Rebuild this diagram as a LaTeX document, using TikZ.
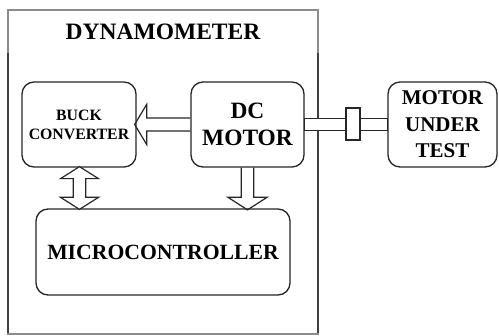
\documentclass[tikz,border=0pt]{standalone}
\usepackage{fontspec}
\setmainfont{Liberation Serif}
\usetikzlibrary{calc}
\begin{document}
\begin{tikzpicture}[x=1pt,y=-1pt,
  blk/.style={draw=black!85, line width=1.3pt, rounded corners=12pt, fill=white, align=center, inner sep=0pt, font=\bfseries},
  harrow/.style={draw=black!85, line width=1.2pt, line join=miter},
  outerbox/.style={draw=black!45, line width=1.2pt},
  outerdark/.style={draw=black!75, line width=1.3pt},
  ttl/.style={font=\fontsize{23.5}{27}\selectfont\bfseries, inner sep=0pt}]
\useasboundingbox (0,0) rectangle (499,336);
% outer dynamometer frame
\draw[outerbox] (8,10) rectangle (318,334);
\draw[outerdark] (8,53) -- (8,333);
\draw[outerdark] (318,53) -- (318,333);
\node[ttl] (title) at (163,32) {DYNAMOMETER};
% blocks
\node[blk, minimum width=114pt, minimum height=85pt, font=\fontsize{15.8}{19}\selectfont\bfseries] (buck) at (79,124.5) {BUCK\\CONVERTER};
\node[blk, minimum width=113pt, minimum height=85pt, font=\fontsize{23.4}{27}\selectfont\bfseries] (dc) at (247.5,124.5) {DC\\MOTOR};
\node[blk, minimum width=109pt, minimum height=85pt, font=\fontsize{21}{26.5}\selectfont\bfseries] (mut) at (442.5,124.5) {MOTOR\\UNDER\\TEST};
\node[blk, minimum width=254pt, minimum height=86pt, font=\fontsize{21.7}{26}\selectfont\bfseries] (mcu) at (163,252) {MICROCONTROLLER};
% shaft between DC motor and motor under test
\draw[harrow, fill=white] ($(dc.east)+(0,-6)$) rectangle ($(mut.west)+(0,6)$);
\node[draw=black!85, line width=1.2pt, fill=white, minimum width=14pt, minimum height=32pt, inner sep=0pt] (cpl) at (353,124) {};
% hollow arrow DC motor -> buck converter
\draw[harrow] ($(dc.west)+(0,-6.5)$) -- ($(buck.east)+(10,-6.5)$) -- ($(buck.east)+(10,-20)$)
  -- ($(buck.east)+(-2,0)$) -- ($(buck.east)+(10,20)$) -- ($(buck.east)+(10,6.5)$) -- ($(dc.west)+(0,6.5)$);
% double hollow arrow buck converter <-> microcontroller
\coordinate (bt) at ($(buck.south)+(0.5,-1)$);
\coordinate (bb) at ($(buck.south |- mcu.north)+(0.5,1)$);
\draw[harrow, fill=white] (bt) -- ($(bt)+(19,12)$) -- ($(bt)+(6.2,12)$) -- ($(bb)+(6.2,-12)$) -- ($(bb)+(19,-12)$)
  -- (bb) -- ($(bb)+(-19,-12)$) -- ($(bb)+(-6.2,-12)$) -- ($(bt)+(-6.2,12)$) -- ($(bt)+(-19,12)$) -- cycle;
% hollow arrow DC motor -> microcontroller
\coordinate (dt) at ($(dc.south |- mcu.north)+(0,1.5)$);
\draw[harrow] ($(dc.south)+(-6.3,0)$) -- ($(dt)+(-6.3,-12.5)$) -- ($(dt)+(-19.5,-12.5)$) -- (dt)
  -- ($(dt)+(19.5,-12.5)$) -- ($(dt)+(6.3,-12.5)$) -- ($(dc.south)+(6.3,0)$);
\end{tikzpicture}
\end{document}
